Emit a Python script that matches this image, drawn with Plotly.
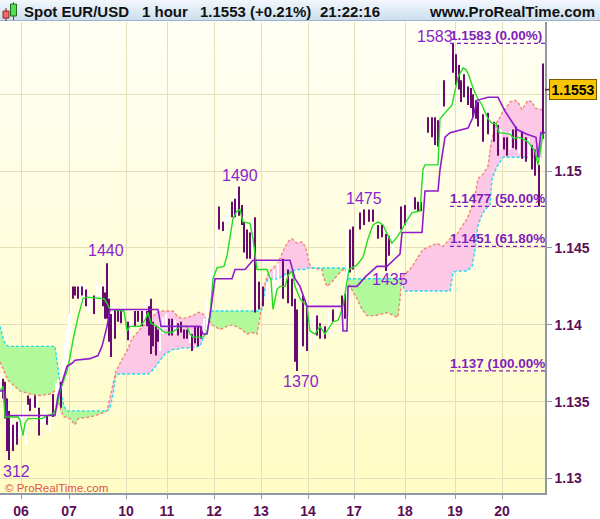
import plotly.graph_objects as go

# ---------------- data ----------------
day_t = [21, 69, 126, 167, 214, 261, 308, 354, 405, 455, 502]
day_labels = ["06", "07", "10", "11", "12", "13", "14", "17", "18", "19", "20"]
price_ticks = [1.13, 1.135, 1.14, 1.145, 1.15, 1.155]
price_tick_labels = ["1.13", "1.135", "1.14", "1.145", "1.15", ""]

bar_t = [1, 3, 5, 7, 9, 11, 13, 15, 17, 19,
         21, 23, 26, 28, 30, 32, 35, 37, 39, 42,
         44, 47, 50, 53, 56, 58, 61, 63, 65, 67,
         69, 71, 73, 75, 78, 80, 82, 84, 86, 89,
         91, 94, 97, 100, 103, 105, 107, 109, 111, 113,
         115, 118, 121, 124, 128, 131, 135, 138, 142, 145,
         147, 149, 151, 153, 156, 158, 160, 163, 166, 169,
         172, 175, 178, 181, 184, 187, 190, 192, 195, 198,
         201, 204, 207, 210, 213, 216, 219, 223, 226, 229,
         232, 235, 237, 239, 242, 244, 247, 250, 252, 255,
         259, 263, 267, 270, 274, 278, 283, 288, 292, 295,
         297, 300, 303, 307, 310, 314, 317, 320, 325, 329,
         333, 337, 342, 345, 347, 350, 353, 357, 360, 364,
         369, 373, 378, 382, 386, 389, 393, 397, 401, 405,
         408, 411, 415, 418, 421, 424, 428, 432, 435, 438,
         441, 444, 448, 451, 453, 456, 459, 461, 464, 466,
         468, 471, 473, 476, 478, 481, 483, 486, 488, 491,
         494, 498, 501, 504, 507, 510, 513, 516, 519, 522,
         526, 529, 532, 535, 539, 543]
bar_high = [1.1368, 1.1365, 1.1363, 1.1352, 1.1344, 1.1339, 1.1335, 1.1339, 1.1337, 1.1342,
            1.1340, 1.1349, 1.1348, 1.1354, 1.1352, 1.1353, 1.1354, 1.1352, 1.1346, 1.1342,
            1.1346, 1.1341, 1.1344, 1.1355, 1.1362, 1.1365, 1.1363, 1.1378, 1.1388, 1.1397,
            1.1407, 1.1414, 1.1425, 1.1425, 1.1425, 1.1427, 1.1425, 1.1427, 1.1423, 1.1420,
            1.1419, 1.1419, 1.1428, 1.1427, 1.1425, 1.1421, 1.1440, 1.1417, 1.1407, 1.1414,
            1.1410, 1.1410, 1.1409, 1.1414, 1.1402, 1.1405, 1.1409, 1.1409, 1.1409, 1.1414,
            1.1409, 1.1412, 1.1417, 1.1402, 1.1399, 1.1397, 1.1404, 1.1405, 1.1407, 1.1404,
            1.1404, 1.1403, 1.1401, 1.1402, 1.1397, 1.1397, 1.1396, 1.1394, 1.1399, 1.1399,
            1.1399, 1.1404, 1.1417, 1.1436, 1.1449, 1.1465, 1.1477, 1.1467, 1.1472, 1.1478,
            1.1480, 1.1482, 1.1485, 1.1490, 1.1478, 1.1467, 1.1462, 1.1460, 1.1465, 1.1470,
            1.1428, 1.1425, 1.1427, 1.1433, 1.1436, 1.1440, 1.1443, 1.1436, 1.1430, 1.1417,
            1.1410, 1.1404, 1.1419, 1.1412, 1.1404, 1.1407, 1.1406, 1.1401, 1.1399, 1.1407,
            1.1410, 1.1414, 1.1419, 1.1420, 1.1467, 1.1462, 1.1464, 1.1472, 1.1473, 1.1475,
            1.1475, 1.1475, 1.1465, 1.1465, 1.1459, 1.1458, 1.1462, 1.1472, 1.1477, 1.1478,
            1.1482, 1.1483, 1.1483, 1.1480, 1.1480, 1.1527, 1.1535, 1.1535, 1.1535, 1.1533,
            1.1553, 1.1559, 1.1572, 1.1583, 1.1583, 1.1576, 1.1569, 1.1559, 1.1563, 1.1559,
            1.1555, 1.1554, 1.1550, 1.1546, 1.1545, 1.1543, 1.1537, 1.1540, 1.1538, 1.1535,
            1.1532, 1.1530, 1.1527, 1.1522, 1.1522, 1.1526, 1.1527, 1.1529, 1.1525, 1.1526,
            1.1522, 1.1521, 1.1517, 1.1514, 1.1504, 1.1570]
bar_low = [1.1355, 1.1352, 1.1339, 1.1318, 1.1312, 1.1320, 1.1318, 1.1323, 1.1322, 1.1326,
           1.1329, 1.1336, 1.1322, 1.1348, 1.1344, 1.1346, 1.1346, 1.1336, 1.1328, 1.1333,
           1.1336, 1.1335, 1.1331, 1.1340, 1.1352, 1.1353, 1.1346, 1.1355, 1.1365, 1.1375,
           1.1384, 1.1394, 1.1417, 1.1419, 1.1417, 1.1414, 1.1419, 1.1417, 1.1412, 1.1407,
           1.1410, 1.1407, 1.1415, 1.1417, 1.1412, 1.1404, 1.1404, 1.1389, 1.1379, 1.1397,
           1.1391, 1.1402, 1.1401, 1.1404, 1.1390, 1.1394, 1.1399, 1.1402, 1.1399, 1.1404,
           1.1399, 1.1393, 1.1381, 1.1386, 1.1380, 1.1389, 1.1383, 1.1394, 1.1397, 1.1393,
           1.1393, 1.1394, 1.1393, 1.1395, 1.1391, 1.1391, 1.1388, 1.1383, 1.1388, 1.1386,
           1.1391, 1.1392, 1.1394, 1.1407, 1.1423, 1.1443, 1.1462, 1.1461, 1.1459, 1.1465,
           1.1470, 1.1470, 1.1472, 1.1471, 1.1465, 1.1447, 1.1443, 1.1443, 1.1449, 1.1408,
           1.1410, 1.1412, 1.1417, 1.1417, 1.1420, 1.1423, 1.1417, 1.1414, 1.1412, 1.1376,
           1.1370, 1.1381, 1.1386, 1.1383, 1.1385, 1.1388, 1.1393, 1.1391, 1.1391, 1.1394,
           1.1402, 1.1404, 1.1409, 1.1404, 1.1417, 1.1434, 1.1436, 1.1456, 1.1462, 1.1465,
           1.1467, 1.1467, 1.1456, 1.1457, 1.1435, 1.1445, 1.1446, 1.1456, 1.1462, 1.1465,
           1.1465, 1.1472, 1.1475, 1.1474, 1.1474, 1.1478, 1.1525, 1.1522, 1.1517, 1.1516,
           1.1527, 1.1542, 1.1550, 1.1563, 1.1564, 1.1556, 1.1553, 1.1545, 1.1548, 1.1546,
           1.1543, 1.1541, 1.1535, 1.1534, 1.1529, 1.1527, 1.1519, 1.1527, 1.1524, 1.1521,
           1.1519, 1.1510, 1.1514, 1.1514, 1.1510, 1.1514, 1.1515, 1.1514, 1.1511, 1.1508,
           1.1506, 1.1508, 1.1501, 1.1497, 1.1477, 1.1521]
bar_up = [1, 0, 0, 0, 0, 1, 0, 1, 0, 1,
          1, 1, 1, 0, 0, 1, 0, 1, 0, 1,
          1, 0, 1, 0, 1, 1, 0, 1, 1, 1,
          1, 1, 0, 0, 0, 1, 0, 1, 0, 1,
          1, 0, 1, 1, 0, 0, 0, 0, 0, 1,
          0, 0, 0, 1, 0, 1, 0, 0, 0, 1,
          0, 0, 0, 0, 0, 0, 1, 1, 1, 0,
          0, 1, 0, 0, 0, 0, 1, 0, 0, 0,
          0, 1, 1, 1, 1, 1, 0, 0, 1, 1,
          0, 0, 1, 0, 0, 0, 0, 0, 1, 0,
          0, 0, 1, 1, 1, 1, 0, 0, 0, 0,
          0, 1, 0, 0, 1, 1, 0, 0, 0, 1,
          0, 1, 0, 0, 1, 0, 0, 1, 0, 0,
          0, 0, 0, 0, 0, 0, 1, 1, 0, 0,
          1, 1, 0, 0, 0, 1, 0, 0, 0, 0,
          1, 0, 1, 1, 0, 0, 0, 0, 0, 1,
          0, 0, 0, 0, 0, 1, 0, 1, 0, 1,
          0, 0, 1, 0, 0, 1, 0, 0, 1, 0,
          0, 1, 0, 0, 0, 0]

tenkan_t = [0, 3, 5, 18, 20, 23, 25, 28, 42, 47,
            53, 57, 60, 63, 67, 70, 73, 78, 83, 87,
            100, 104, 107, 110, 124, 127, 130, 140, 145, 148,
            151, 157, 165, 172, 180, 187, 190, 193, 203, 207,
            210, 213, 217, 224, 227, 230, 233, 237, 240, 243,
            250, 253, 257, 267, 271, 273, 277, 280, 285, 288,
            292, 295, 300, 307, 310, 315, 320, 325, 333, 338,
            340, 343, 347, 349, 357, 363, 368, 373, 378, 383,
            388, 392, 397, 402, 407, 412, 420, 423, 425, 438,
            440, 445, 452, 455, 458, 463, 466, 469, 473, 477,
            482, 488, 492, 496, 499, 510, 514, 518, 523, 528,
            535, 538, 540, 543]
tenkan = [1.1357, 1.1360, 1.1340, 1.1340, 1.1338, 1.1328, 1.1336, 1.1339, 1.1339, 1.1341,
          1.1342, 1.1346, 1.1357, 1.1363, 1.1370, 1.1379, 1.1390, 1.1405, 1.1417, 1.1418,
          1.1417, 1.1417, 1.1414, 1.1410, 1.1409, 1.1396, 1.1399, 1.1399, 1.1403, 1.1408,
          1.1401, 1.1399, 1.1395, 1.1395, 1.1399, 1.1399, 1.1394, 1.1392, 1.1392, 1.1395,
          1.1406, 1.1430, 1.1437, 1.1438, 1.1445, 1.1456, 1.1469, 1.1474, 1.1475, 1.1467,
          1.1466, 1.1456, 1.1436, 1.1436, 1.1429, 1.1410, 1.1423, 1.1425, 1.1425, 1.1432,
          1.1435, 1.1425, 1.1417, 1.1412, 1.1396, 1.1394, 1.1399, 1.1394, 1.1402, 1.1403,
          1.1406, 1.1412, 1.1428, 1.1436, 1.1439, 1.1444, 1.1456, 1.1465, 1.1467, 1.1465,
          1.1458, 1.1453, 1.1457, 1.1462, 1.1468, 1.1473, 1.1474, 1.1501, 1.1504, 1.1504,
          1.1534, 1.1538, 1.1543, 1.1552, 1.1561, 1.1567, 1.1566, 1.1562, 1.1554, 1.1548,
          1.1543, 1.1534, 1.1531, 1.1531, 1.1525, 1.1524, 1.1521, 1.1522, 1.1521, 1.1519,
          1.1513, 1.1504, 1.1511, 1.1524]

kijun_t = [0, 5, 7, 55, 58, 63, 67, 72, 75, 90,
           98, 102, 107, 110, 158, 161, 200, 203, 207, 210,
           215, 232, 235, 245, 253, 290, 295, 300, 307, 342,
           343, 347, 348, 357, 365, 377, 387, 395, 400, 402,
           422, 425, 438, 440, 445, 450, 468, 473, 477, 488,
           498, 505, 512, 517, 527, 536, 538, 541, 545]
kijun = [1.1357, 1.1357, 1.1341, 1.1341, 1.1354, 1.1365, 1.1373, 1.1375, 1.1377, 1.1378,
         1.1380, 1.1386, 1.1399, 1.1410, 1.1410, 1.1399, 1.1399, 1.1394, 1.1394, 1.1406,
         1.1430, 1.1430, 1.1436, 1.1436, 1.1442, 1.1442, 1.1430, 1.1425, 1.1412, 1.1412,
         1.1396, 1.1396, 1.1425, 1.1425, 1.1431, 1.1438, 1.1438, 1.1443, 1.1446, 1.1460,
         1.1460, 1.1487, 1.1487, 1.1501, 1.1522, 1.1525, 1.1528, 1.1535, 1.1546, 1.1548,
         1.1548, 1.1539, 1.1532, 1.1527, 1.1524, 1.1522, 1.1509, 1.1525, 1.1525]

cloud_t = [0, 4, 8, 20, 30, 40, 50, 55, 58, 61,
           64, 67, 70, 75, 78, 90, 100, 107, 110, 113,
           116, 120, 127, 132, 140, 148, 152, 157, 160, 165,
           173, 177, 182, 188, 193, 198, 200, 203, 207, 209,
           212, 220, 227, 233, 242, 247, 252, 257, 260, 262,
           265, 268, 273, 278, 283, 288, 292, 297, 302, 305,
           307, 309, 312, 322, 323, 327, 332, 337, 343, 346,
           348, 350, 357, 362, 367, 375, 383, 388, 393, 398,
           400, 402, 405, 410, 417, 423, 430, 437, 443, 450,
           453, 457, 462, 467, 472, 475, 478, 483, 488, 490,
           492, 495, 497, 500, 503, 505, 510, 515, 518, 522,
           525, 528, 532, 535, 540, 542]
span_cyan = [1.1399, 1.1389, 1.1386, 1.1386, 1.1386, 1.1386, 1.1386, 1.1386, 1.1372, 1.1355,
             1.1347, 1.1344, 1.1344, 1.1344, 1.1344, 1.1344, 1.1344, 1.1344, 1.1346, 1.1355,
             1.1368, 1.1368, 1.1368, 1.1368, 1.1368, 1.1368, 1.1370, 1.1374, 1.1377, 1.1381,
             1.1384, 1.1384, 1.1385, 1.1385, 1.1385, 1.1386, 1.1386, 1.1391, 1.1397, 1.1404,
             1.1409, 1.1409, 1.1409, 1.1409, 1.1409, 1.1409, 1.1409, 1.1409, 1.1409, 1.1410,
             1.1423, 1.1430, 1.1430, 1.1430, 1.1432, 1.1434, 1.1435, 1.1436, 1.1436, 1.1436,
             1.1437, 1.1437, 1.1437, 1.1437, 1.1437, 1.1437, 1.1437, 1.1437, 1.1437, 1.1437,
             1.1430, 1.1430, 1.1430, 1.1430, 1.1430, 1.1430, 1.1430, 1.1430, 1.1430, 1.1430,
             1.1430, 1.1427, 1.1422, 1.1422, 1.1422, 1.1422, 1.1422, 1.1422, 1.1422, 1.1422,
             1.1434, 1.1435, 1.1435, 1.1435, 1.1438, 1.1449, 1.1465, 1.1473, 1.1477, 1.1478,
             1.1495, 1.1500, 1.1503, 1.1506, 1.1509, 1.1509, 1.1509, 1.1509, 1.1509, 1.1509,
             1.1509, 1.1509, 1.1509, 1.1509, 1.1509, 1.1509]
span_salmon = [1.1376, 1.1370, 1.1364, 1.1357, 1.1355, 1.1354, 1.1355, 1.1357, 1.1352, 1.1344,
               1.1340, 1.1340, 1.1339, 1.1335, 1.1339, 1.1340, 1.1342, 1.1344, 1.1352, 1.1362,
               1.1370, 1.1375, 1.1383, 1.1391, 1.1397, 1.1403, 1.1405, 1.1408, 1.1409, 1.1409,
               1.1409, 1.1406, 1.1404, 1.1405, 1.1406, 1.1408, 1.1408, 1.1407, 1.1404, 1.1403,
               1.1400, 1.1397, 1.1399, 1.1400, 1.1397, 1.1394, 1.1395, 1.1394, 1.1405, 1.1413,
               1.1427, 1.1433, 1.1437, 1.1440, 1.1448, 1.1454, 1.1456, 1.1453, 1.1454, 1.1451,
               1.1447, 1.1440, 1.1437, 1.1436, 1.1432, 1.1425, 1.1428, 1.1432, 1.1436, 1.1436,
               1.1427, 1.1425, 1.1417, 1.1410, 1.1406, 1.1406, 1.1407, 1.1408, 1.1406, 1.1405,
               1.1417, 1.1431, 1.1433, 1.1436, 1.1443, 1.1449, 1.1451, 1.1453, 1.1451, 1.1456,
               1.1457, 1.1459, 1.1464, 1.1469, 1.1477, 1.1484, 1.1495, 1.1498, 1.1503, 1.1514,
               1.1522, 1.1529, 1.1532, 1.1535, 1.1539, 1.1540, 1.1545, 1.1546, 1.1545, 1.1540,
               1.1543, 1.1546, 1.1545, 1.1541, 1.1540, 1.1540]

fib_prices = [1.1583, 1.1477, 1.1451, 1.137]
fib_labels = ["1.1583 (0.00%)", "1.1477 (50.00%)", "1.1451 (61.80%)", "1.137 (100.00%)"]
fib_start_t = 450

pivot_text = ["1583", "1490", "1440", "1475", "1435", "1370", "312"]
pivot_t = [453, 239, 107, 364, 386, 297, 9]
pivot_price = [1.1583, 1.1490, 1.1440, 1.1475, 1.1435, 1.1370, 1.1312]

last_price = 1.1553
header_items = ["Spot EUR/USD", "1 hour", "1.1553 (+0.21%)", "21:22:16"]
site_text = "www.ProRealTime.com"
copyright_text = "\u00a9 ProRealTime.com"

# ---------------- style / layout constants ----------------
W, H = 600, 519
ML, MR, MT, MB = 0, 55, 22, 24
PW, PH = W - ML - MR, H - MT - MB
X_RANGE = [0, 545]
Y_RANGE = [1.129061, 1.159696]
FONT = "Liberation Sans, Arial, sans-serif"
AXIS_TXT = "#5b0e55"
BAR_DOWN = "#680a6e"
KIJUN_C = "#8e1ccc"
TENKAN_C = "#22dd22"
LABEL_C = "#8a24cc"
FIB_C = "#7f1fc0"
FRAME_C = "#8d9aa5"

# pixel offsets (style only) for pivot labels: (xshift, yshift)
pivot_shift = [(-18, 7), (1, 11), (-1, 13), (0, 11), (4, -8), (4, -11), (7, -11)]


def px_x(p):
    return (p - ML) / PW


def px_y(p):
    return (H - MB - p) / PH


def mix(c1, c2, f):
    return "rgb(%d,%d,%d)" % tuple(round(a + (b - a) * f) for a, b in zip(c1, c2))


def cloud_polygons(xs, a, b):
    pts = []
    n = len(xs)
    for i in range(n):
        pts.append((xs[i], a[i], b[i]))
        if i < n - 1:
            d0 = a[i] - b[i]
            d1 = a[i + 1] - b[i + 1]
            if d0 * d1 < 0:
                f = d0 / (d0 - d1)
                xc = xs[i] + f * (xs[i + 1] - xs[i])
                yc = a[i] + f * (a[i + 1] - a[i])
                pts.append((xc, yc, yc))
    runs, cur = [], [pts[0]]
    for p in pts[1:]:
        cur.append(p)
        if abs(p[1] - p[2]) < 1e-12:
            runs.append(cur)
            cur = [p]
    runs.append(cur)
    out = {1: ([], []), -1: ([], [])}
    for run in runs:
        if len(run) < 2:
            continue
        s = sum(p[1] - p[2] for p in run)
        if abs(s) < 1e-12:
            continue
        key = 1 if s > 0 else -1
        px = [p[0] for p in run] + [p[0] for p in reversed(run)]
        py = [p[1] for p in run] + [p[2] for p in reversed(run)]
        out[key][0].extend(px + [None])
        out[key][1].extend(py + [None])
    return out


fig = go.Figure()

polys = cloud_polygons(cloud_t, span_cyan, span_salmon)
fig.add_trace(go.Scatter(x=polys[1][0], y=polys[1][1], fill="toself", mode="none",
                         fillcolor="#b2f99c", hoverinfo="skip"))
fig.add_trace(go.Scatter(x=polys[-1][0], y=polys[-1][1], fill="toself", mode="none",
                         fillcolor="#fdc8e6", hoverinfo="skip"))
fig.add_trace(go.Scatter(x=cloud_t, y=span_salmon, mode="lines",
                         line=dict(color="#f2857a", width=1.4, dash="3px,2px")))
fig.add_trace(go.Scatter(x=cloud_t, y=span_cyan, mode="lines",
                         line=dict(color="#1fdcf2", width=1.4, dash="3px,2px")))


def bar_segments(flag):
    xs, ys = [], []
    for t, h, l, u in zip(bar_t, bar_high, bar_low, bar_up):
        if u == flag:
            xs += [t, t, None]
            ys += [h, l, None]
    return xs, ys


wx, wy = bar_segments(1)
dx, dy = bar_segments(0)
fig.add_trace(go.Scatter(x=wx, y=wy, mode="lines", line=dict(color="#ffffff", width=2)))
fig.add_trace(go.Scatter(x=dx, y=dy, mode="lines", line=dict(color=BAR_DOWN, width=2)))

fig.add_trace(go.Scatter(x=tenkan_t, y=tenkan, mode="lines",
                         line=dict(color=TENKAN_C, width=1.4)))
fig.add_trace(go.Scatter(x=kijun_t, y=kijun, mode="lines",
                         line=dict(color=KIJUN_C, width=1.6)))

# Fibonacci levels
for lv in fib_prices:
    fig.add_trace(go.Scatter(x=[fib_start_t, X_RANGE[1]], y=[lv, lv], mode="lines",
                             line=dict(color=FIB_C, width=1.3, dash="4px,3px")))
fig.add_trace(go.Scatter(x=[fib_start_t] * len(fib_prices), y=fib_prices, mode="text",
                         text=fib_labels, textposition="top right", cliponaxis=True,
                         textfont=dict(family=FONT, size=13.5, color=FIB_C, weight="bold")))

shapes = []
# plot background gradient
NB = 30
for i in range(NB):
    f = (i + 0.5) / NB
    shapes.append(dict(type="rect", xref="paper", yref="paper", x0=0, x1=1,
                       y0=i / NB, y1=(i + 1) / NB, line=dict(width=0),
                       fillcolor=mix((255, 252, 196), (255, 255, 244), f), layer="below"))
# header gradient
NH = 10
for i in range(NH):
    f = i / (NH - 1)
    shapes.append(dict(type="rect", xref="paper", yref="paper", x0=px_x(0), x1=px_x(W),
                       y0=px_y(2 * (i + 1)), y1=px_y(2 * i), line=dict(width=0),
                       fillcolor=mix((240, 246, 251), (206, 224, 239), f)))
shapes.append(dict(type="line", xref="paper", yref="paper", x0=px_x(0), x1=px_x(W),
                   y0=px_y(20.5), y1=px_y(20.5), line=dict(color="#9fb2c4", width=1)))
# candle icon
shapes += [
    dict(type="line", xref="paper", yref="paper", x0=px_x(6), x1=px_x(6), y0=px_y(21), y1=px_y(8),
         line=dict(color="#7a2020", width=1)),
    dict(type="rect", xref="paper", yref="paper", x0=px_x(3), x1=px_x(9), y0=px_y(18), y1=px_y(11),
         fillcolor="#ee6b6b", line=dict(color="#8a2a2a", width=1)),
    dict(type="line", xref="paper", yref="paper", x0=px_x(13.5), x1=px_x(13.5), y0=px_y(20), y1=px_y(2),
         line=dict(color="#1f6a1f", width=1)),
    dict(type="rect", xref="paper", yref="paper", x0=px_x(10.5), x1=px_x(16.5), y0=px_y(16), y1=px_y(4),
         fillcolor="#55dd55", line=dict(color="#1f6a1f", width=1)),
]
# price marker tick
shapes.append(dict(type="line", xref="paper", yref="y", x0=1, x1=px_x(550),
                   y0=last_price, y1=last_price, line=dict(color=AXIS_TXT, width=1.5)))

annotations = []
head_x = [22, 140, 198, 318]
for txt, hx in zip(header_items, head_x):
    annotations.append(dict(text=txt, xref="paper", yref="paper", x=px_x(hx), y=px_y(11.5),
                            xanchor="left", yanchor="middle", showarrow=False,
                            font=dict(family=FONT, size=15, color="#111111", weight="bold")))
annotations.append(dict(text=site_text, xref="paper", yref="paper", x=px_x(597), y=px_y(11.5),
                        xanchor="right", yanchor="middle", showarrow=False,
                        font=dict(family=FONT, size=15, color="#111111", weight="bold")))
annotations.append(dict(text=copyright_text, xref="paper", yref="paper", x=px_x(3), y=px_y(489.5),
                        xanchor="left", yanchor="middle", showarrow=False,
                        font=dict(family=FONT, size=11.5, color="#e0524f")))
for txt, t, p, (sx, sy) in zip(pivot_text, pivot_t, pivot_price, pivot_shift):
    annotations.append(dict(text=txt, x=t, y=p, xref="x", yref="y", showarrow=False,
                            xanchor="center", yanchor="middle", xshift=sx, yshift=sy,
                            font=dict(family=FONT, size=16, color=LABEL_C)))
annotations.append(dict(text="1.1553", xref="paper", yref="y", x=px_x(573), y=last_price,
                        xanchor="center", yanchor="middle", showarrow=False,
                        bgcolor="#f7c600", bordercolor="#7a5a00", borderwidth=1, borderpad=2,
                        width=42, height=15,
                        font=dict(family=FONT, size=14, color="#000000", weight="bold")))

fig.update_layout(
    width=W, height=H, margin=dict(l=ML, r=MR, t=MT, b=MB, pad=0),
    paper_bgcolor="#ffffff", plot_bgcolor="rgba(0,0,0,0)",
    showlegend=False, shapes=shapes, annotations=annotations,
    xaxis=dict(range=X_RANGE, tickmode="array", tickvals=day_t, ticktext=day_labels,
               showgrid=True, gridcolor="#e4e0bc", gridwidth=1, zeroline=False,
               showline=True, linecolor=FRAME_C, linewidth=1.5,
               ticks="outside", ticklen=4, tickcolor=FRAME_C,
               tickfont=dict(family=FONT, size=14, color=AXIS_TXT, weight="bold"),
               fixedrange=True),
    yaxis=dict(range=Y_RANGE, side="right", tickmode="array", tickvals=price_ticks,
               ticktext=price_tick_labels, showgrid=True, gridcolor="#e4e0bc", gridwidth=1,
               zeroline=False, showline=True, linecolor=FRAME_C, linewidth=1.5,
               ticks="outside", ticklen=5, tickcolor=FRAME_C,
               tickfont=dict(family=FONT, size=14, color=AXIS_TXT, weight="bold"),
               fixedrange=True),
)

fig.write_html("out.html", config={"displayModeBar": False},
               post_script="document.body.style.margin='0';"
                           "document.body.style.padding='0';"
                           "document.body.style.overflow='hidden';")
